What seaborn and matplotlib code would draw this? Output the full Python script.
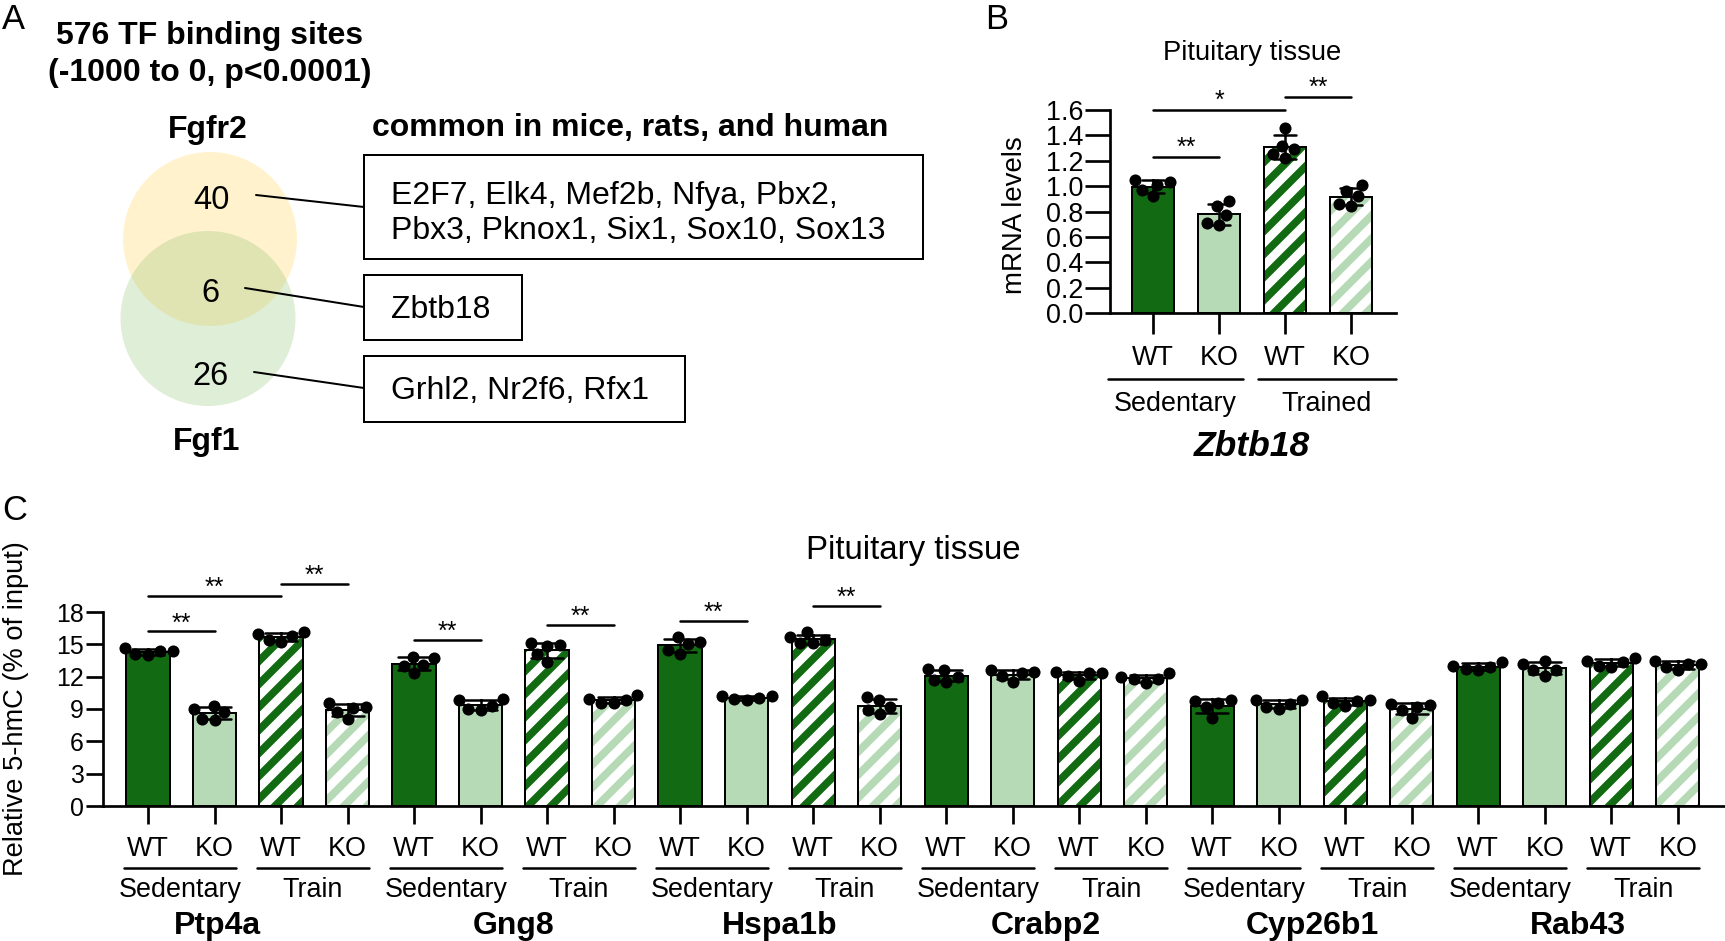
import numpy as np
import pandas as pd
import matplotlib
matplotlib.use("Agg")
import matplotlib.pyplot as plt
import matplotlib.transforms as mtransforms
from matplotlib.patches import Ellipse, Rectangle
import seaborn as sns

# ---------------- data ----------------
# Panel A (Venn + TF lists)
venn_sets = ["Fgfr2", "Fgf1"]
venn_counts = ["40", "6", "26"]
venn_tf_lines = [
    ["E2F7, Elk4, Mef2b, Nfya, Pbx2,", "Pbx3, Pknox1, Six1, Sox10, Sox13"],
    ["Zbtb18"],
    ["Grhl2, Nr2f6, Rfx1"],
]
a_title = ["576 TF binding sites", "(-1000 to 0, p<0.0001)"]
a_subtitle = "common in mice, rats, and human"

# Panel B (Zbtb18 mRNA)
b_conditions = ["Sedentary WT", "Sedentary KO", "Trained WT", "Trained KO"]
b_wt_sedentary = [1.01, 0.92, 1.05, 0.97, 1.03]
b_ko_sedentary = [0.88, 0.77, 0.84, 0.69, 0.71]
b_wt_trained = [1.46, 1.32, 1.29, 1.22, 1.25]
b_ko_trained = [1.01, 0.92, 0.96, 0.84, 0.86]
b_yticks = [0.0, 0.2, 0.4, 0.6, 0.8, 1.0, 1.2, 1.4, 1.6]
b_tick_labels = ["WT", "KO", "WT", "KO"]
b_groups = ["Sedentary", "Trained"]
b_gene = "Zbtb18"
b_significance = [(0, 1, 1.23, "**"), (0, 2, 1.60, "*"), (2, 3, 1.70, "**")]

# Panel C (5-hmC)
c_genes = ["Ptp4a", "Gng8", "Hspa1b", "Crabp2", "Cyp26b1", "Rab43"]
c_conditions = ["Sedentary WT", "Sedentary KO", "Train WT", "Train KO"]
c_ptp4a = [[14.1, 14.7, 14.4, 14.4, 14.0], [9.0, 8.0, 8.7, 9.3, 8.1],
           [16.0, 15.2, 16.1, 15.4, 15.8], [9.1, 9.6, 8.1, 8.7, 9.2]]
c_gng8 = [[13.7, 12.3, 13.0, 13.8, 13.1], [9.8, 8.9, 9.9, 9.0, 9.3],
          [14.9, 13.4, 14.8, 15.1, 14.1], [10.3, 9.6, 9.8, 9.9, 9.6]]
c_hspa1b = [[15.2, 14.1, 15.0, 15.7, 14.5], [9.9, 10.2, 10.0, 10.2, 9.8],
            [15.7, 15.1, 15.4, 16.1, 15.1], [9.8, 8.5, 9.2, 10.1, 8.9]]
c_crabp2 = [[12.7, 11.5, 12.0, 12.6, 11.7], [12.4, 11.5, 12.3, 12.6, 12.1],
            [12.1, 12.4, 12.3, 12.3, 11.6], [12.3, 12.0, 11.4, 11.8, 11.8]]
c_cyp26b1 = [[9.6, 8.2, 9.8, 9.2, 9.7], [9.2, 9.8, 9.8, 9.0, 9.5],
             [10.2, 9.3, 9.8, 9.7, 9.6], [9.2, 8.2, 8.9, 9.5, 9.4]]
c_rab43 = [[13.4, 12.7, 13.0, 12.9, 12.6], [13.2, 12.1, 13.5, 12.6, 12.6],
           [13.0, 13.7, 13.5, 13.4, 12.9], [13.2, 13.5, 12.9, 13.2, 12.6]]
c_yticks = [0, 3, 6, 9, 12, 15, 18]
c_tick_labels = ["WT", "KO", "WT", "KO"]
c_groups = ["Sedentary", "Train"]
c_significance = [(0, 1, 16.2, "**"), (0, 2, 19.5, "**"), (2, 3, 20.6, "**"),
                  (4, 5, 15.4, "**"), (6, 7, 16.8, "**"),
                  (8, 9, 17.2, "**"), (10, 11, 18.6, "**")]

# ---------------- style ----------------
DPI = 138
W, H = 1725, 941
DARK = "#037a03"
LIGHT = "#b0dfb0"


def pt(px):
    return px * 72 / DPI


def em(size):
    return size * DPI / 72


sns.set_theme(style="ticks")
plt.rcParams["font.family"] = ["Liberation Sans", "DejaVu Sans"]
plt.rcParams["hatch.linewidth"] = 4.0
plt.rcParams["axes.linewidth"] = pt(2.7)
plt.rcParams["axes.edgecolor"] = "black"
plt.rcParams["xtick.color"] = "black"
plt.rcParams["ytick.color"] = "black"
plt.rcParams["text.color"] = "black"

fig = plt.figure(figsize=(W / DPI, H / DPI), dpi=DPI)
ov = fig.add_axes([0, 0, 1, 1])
ov.set_xlim(0, W)
ov.set_ylim(H, 0)
ov.axis("off")
ov.patch.set_visible(False)


def px_axes(l, t, r, b):
    return fig.add_axes([l / W, 1 - b / H, (r - l) / W, (b - t) / H])


def cap_text(ax, x, ycen, s, size, transform, **kw):
    # place text so that capital letters are vertically centred at ycen (pixels, y down)
    ax.text(x, ycen + 0.358 * em(size), s, fontsize=size, va="baseline",
            transform=transform, clip_on=False, **kw)


def blend(ax):
    return mtransforms.blended_transform_factory(ax.transData, ov.transData)


def hatch_bars(ax, hatched_positions):
    for p in list(ax.patches):
        if not isinstance(p, Rectangle) or p.get_width() <= 0:
            continue
        idx = int(round(p.get_x() + p.get_width() / 2))
        if idx in hatched_positions:
            col = p.get_facecolor()
            p.set_facecolor("white")
            p.set_edgecolor(col)
            p.set_hatch("//")
            p.set_linewidth(0)
            ax.add_patch(Rectangle((p.get_x(), p.get_y()), p.get_width(), p.get_height(),
                                   fill=False, edgecolor="black", linewidth=pt(2),
                                   zorder=p.get_zorder() + 0.1))


# ---------------- Panel A ----------------
PL = 18
cap_text(ov, 2, 17, "A", PL, ov.transData, ha="left")
FA = 16.7
cap_text(ov, 210, 33, a_title[0], FA, ov.transData, ha="center", fontweight="bold")
cap_text(ov, 210, 70, a_title[1], FA, ov.transData, ha="center", fontweight="bold")
cap_text(ov, 372, 125, a_subtitle, FA, ov.transData, ha="left", fontweight="bold")

ov.add_patch(Ellipse((210, 239), 174, 174, facecolor=(1.0, 0.843, 0.353), alpha=0.3, lw=0))
ov.add_patch(Ellipse((208, 318.5), 175, 175, facecolor=(0.55, 0.765, 0.43), alpha=0.28, lw=0))
cap_text(ov, 208, 127, venn_sets[0], FA, ov.transData, ha="center", fontweight="bold")
cap_text(ov, 207, 439, venn_sets[1], FA, ov.transData, ha="center", fontweight="bold")
num_pos = [(211, 197), (210, 290), (210, 373)]
for (x, y), s in zip(num_pos, venn_counts):
    cap_text(ov, x, y, s, 17, ov.transData, ha="center")

boxes = [(364, 155, 559, 104), (364, 275, 158, 65), (364, 356, 321, 66)]
box_line_y = [[193, 228], [307], [388]]
connectors = [((256, 195), (364, 207)), ((245, 288), (364, 307)), ((254, 372), (364, 388))]
for (bx, by, bw, bh), lines, ys, (p0, p1) in zip(boxes, venn_tf_lines, box_line_y, connectors):
    ov.add_patch(Rectangle((bx, by), bw, bh, fill=False, edgecolor="black", lw=pt(2)))
    for s, y in zip(lines, ys):
        cap_text(ov, 391, y, s, FA, ov.transData, ha="left")
    ov.plot([p0[0], p1[0]], [p0[1], p1[1]], color="black", lw=pt(2))

# ---------------- Panel B ----------------
cap_text(ov, 985, 17, "B", PL, ov.transData, ha="left")
axB = px_axes(1110, 110, 1396, 313)
b_values = [b_wt_sedentary, b_ko_sedentary, b_wt_trained, b_ko_trained]
df_b = pd.DataFrame([(c, v) for c, vals in zip(b_conditions, b_values) for v in vals],
                    columns=["condition", "value"])
b_palette = dict(zip(b_conditions, [DARK, LIGHT, DARK, LIGHT]))
sns.barplot(data=df_b, x="condition", y="value", order=b_conditions, hue="condition",
            hue_order=b_conditions, palette=b_palette, dodge=False, width=0.63,
            errorbar="sd", capsize=0.33,
            err_kws={"color": "black", "linewidth": pt(2.5)},
            edgecolor="black", linewidth=pt(2), legend=False, ax=axB)
hatch_bars(axB, {2, 3})
sns.swarmplot(data=df_b, x="condition", y="value", order=b_conditions, color="black",
              size=6.3, ax=axB, zorder=4, warn_thresh=1)
axB.set_xlim(-0.652, 3.682)
axB.set_ylim(0, 1.6)
axB.set_yticks(b_yticks)
axB.set_yticklabels([f"{t:.1f}" for t in b_yticks])
axB.set_xlabel("")
axB.set_ylabel("")
axB.tick_params(axis="x", labelbottom=False, length=pt(21), width=pt(2.7), direction="out")
axB.tick_params(axis="y", labelsize=14, length=pt(25), width=pt(2.7), pad=pt(2), direction="out")
sns.despine(ax=axB)

tb = blend(axB)
for i, lab in enumerate(b_tick_labels):
    cap_text(axB, i, 355, lab, 14, tb, ha="center")
b_group_pad = [(0.68, 0.36), (0.41, 0.68)]
for k, (name, (pl, pr)) in enumerate(zip(b_groups, b_group_pad)):
    x0, x1 = 2 * k - pl, 2 * k + 1 + pr
    axB.plot([x0, x1], [379, 379], transform=tb, clip_on=False, color="black", lw=pt(2.5))
    cap_text(axB, (x0 + x1) / 2, 401, name, 14, tb, ha="center")
cap_text(axB, 1.5, 443, b_gene, 18.5, tb, ha="center", fontweight="bold", fontstyle="italic")
cap_text(axB, 1.5, 50, "Pituitary tissue", 14.3, tb, ha="center")
ov.text(1015, 215, "mRNA levels", fontsize=14.4, rotation=90, ha="center", va="center")

star_tr_b = mtransforms.offset_copy(axB.transData, fig=fig, y=pt(2), units="points")
for i, j, y, s in b_significance:
    axB.plot([i, j], [y, y], color="black", lw=pt(2.5), clip_on=False)
    axB.text((i + j) / 2, y, s, fontsize=13, ha="center", va="baseline",
             transform=star_tr_b, clip_on=False)

# ---------------- Panel C ----------------
cap_text(ov, 2, 508, "C", PL, ov.transData, ha="left")
axC = px_axes(103, 612, 1725, 806)
c_values = [c_ptp4a, c_gng8, c_hspa1b, c_crabp2, c_cyp26b1, c_rab43]
rows = []
slots = []
for g, gvals in zip(c_genes, c_values):
    for c, vals in zip(c_conditions, gvals):
        slot = f"{g} {c}"
        slots.append(slot)
        for v in vals:
            rows.append((slot, c, v))
df_c = pd.DataFrame(rows, columns=["slot", "condition", "value"])
c_palette = dict(zip(c_conditions, [DARK, LIGHT, DARK, LIGHT]))
sns.barplot(data=df_c, x="slot", y="value", order=slots, hue="condition",
            hue_order=c_conditions, palette=c_palette, dodge=False, width=0.65,
            errorbar="sd", capsize=0.48,
            err_kws={"color": "black", "linewidth": pt(2.5)},
            edgecolor="black", linewidth=pt(2), legend=False, ax=axC)
hatch_bars(axC, {i for i in range(len(slots)) if i % 4 >= 2})
sns.swarmplot(data=df_c, x="slot", y="value", order=slots, color="black",
              size=6.3, ax=axC, zorder=4, warn_thresh=1)
axC.set_xlim(-0.677, 23.71)
axC.set_ylim(0, 18)
axC.set_yticks(c_yticks)
axC.set_yticklabels([str(t) for t in c_yticks])
axC.set_xlabel("")
axC.set_ylabel("")
axC.tick_params(axis="x", labelbottom=False, length=pt(18), width=pt(2.7), direction="out")
axC.tick_params(axis="y", labelsize=13, length=pt(17), width=pt(2.7), pad=pt(2), direction="out")
sns.despine(ax=axC)

tc = blend(axC)
gene_label_shift = [-0.45, 0, 0, 0, 0, 0]
for i in range(len(slots)):
    cap_text(axC, i, 846, c_tick_labels[i % 4], 14, tc, ha="center")
for gi, g in enumerate(c_genes):
    for k, name in enumerate(c_groups):
        x0 = gi * 4 + 2 * k - 0.36
        x1 = gi * 4 + 2 * k + 1 + 0.32
        axC.plot([x0, x1], [868, 868], transform=tc, clip_on=False, color="black", lw=pt(2.5))
        cap_text(axC, (x0 + x1) / 2, 887, name, 14, tc, ha="center")
    cap_text(axC, gi * 4 + 1.5 + gene_label_shift[gi], 923, g, 16.7, tc,
             ha="center", fontweight="bold")
cap_text(axC, 11.5, 547, "Pituitary tissue", 17.2, tc, ha="center")
ov.text(16, 709, "Relative 5-hmC (% of input)", fontsize=14.2, rotation=90,
        ha="center", va="center")

star_tr_c = mtransforms.offset_copy(axC.transData, fig=fig, y=pt(1), units="points")
for i, j, y, s in c_significance:
    axC.plot([i, j], [y, y], color="black", lw=pt(2.5), clip_on=False)
    axC.text((i + j) / 2, y, s, fontsize=13, ha="center", va="baseline",
             transform=star_tr_c, clip_on=False)

fig.savefig("out.png", dpi=DPI)
